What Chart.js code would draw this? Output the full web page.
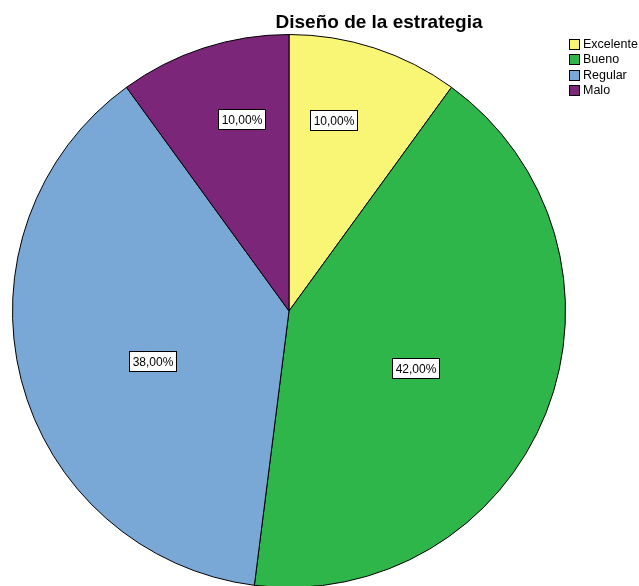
<!DOCTYPE html>
<html><head><meta charset="utf-8">
<script src="https://cdn.jsdelivr.net/npm/chart.js@4/dist/chart.umd.min.js"></script>
<style>html,body{margin:0;padding:0;background:#fff;overflow:hidden;width:639px;height:586px}#w{position:relative;width:639px;height:600px}</style>
</head><body><div id="w"><canvas id="c" width="639" height="600"></canvas></div>
<script>
const title = "Diseño de la estrategia";
const categories = ["Excelente", "Bueno", "Regular", "Malo"];
const percentages = [10, 42, 38, 10];
const colors = ["#F9F675", "#2EB64B", "#7AA8D6", "#7B2678"];
// label placement (style): angle shift in degrees, radius fraction
const labelShift = [-4.8, 2.6, -5.6, 4.0];
const labelFrac = [0.71, 0.50, 0.527, 0.715];

const fmt = v => v.toFixed(2).replace('.', ',') + '%';

const overlay = {
  id: 'overlay',
  afterDraw(chart) {
    const ctx = chart.ctx;
    ctx.save();
    ctx.fillStyle = '#000';
    ctx.font = 'bold 19px "Liberation Sans", Arial, sans-serif';
    ctx.textAlign = 'center';
    ctx.textBaseline = 'alphabetic';
    ctx.fillText(title, 379, 28);
    const meta = chart.getDatasetMeta(0);
    ctx.font = '12px "Liberation Sans", Arial, sans-serif';
    ctx.textBaseline = 'middle';
    meta.data.forEach((arc, i) => {
      const p = arc.getProps(['x','y','startAngle','endAngle','outerRadius'], true);
      const mid = (p.startAngle + p.endAngle) / 2 + labelShift[i] * Math.PI / 180;
      const r = p.outerRadius * labelFrac[i];
      const x = p.x + Math.cos(mid) * r;
      const y = p.y + Math.sin(mid) * r;
      const t = fmt(percentages[i]);
      const w = Math.round(ctx.measureText(t).width + 6);
      const h = 20;
      const bx = Math.round(x - w/2) + 0.5, by = Math.round(y - h/2) + 0.5;
      ctx.fillStyle = '#fff';
      ctx.fillRect(bx, by, w, h);
      ctx.strokeStyle = '#000';
      ctx.lineWidth = 1;
      ctx.strokeRect(bx, by, w, h);
      ctx.fillStyle = '#000';
      ctx.textAlign = 'center';
      ctx.fillText(t, bx + w/2, by + h/2 + 1);
    });
    ctx.textAlign = 'left';
    ctx.font = '12.5px "Liberation Sans", Arial, sans-serif';
    categories.forEach((c, i) => {
      const y = Math.round(39 + i * 15.3);
      ctx.fillStyle = colors[i];
      ctx.fillRect(569.5, y + 0.5, 10, 10);
      ctx.strokeStyle = '#000';
      ctx.lineWidth = 1;
      ctx.strokeRect(569.5, y + 0.5, 10, 10);
      ctx.fillStyle = '#000';
      ctx.textBaseline = 'middle';
      ctx.fillText(c, 583, y + 6);
    });
    ctx.restore();
  }
};

new Chart(document.getElementById('c'), {
  type: 'pie',
  data: {
    labels: categories,
    datasets: [{
      data: percentages,
      backgroundColor: colors,
      borderColor: '#000',
      borderWidth: 1
    }]
  },
  options: {
    responsive: false,
    animation: false,
    layout: { padding: { left: 12, right: 73, top: 34, bottom: 12 } },
    plugins: { legend: { display: false }, tooltip: { enabled: false }, title: { display: false } }
  },
  plugins: [overlay]
});
</script>
</body></html>
